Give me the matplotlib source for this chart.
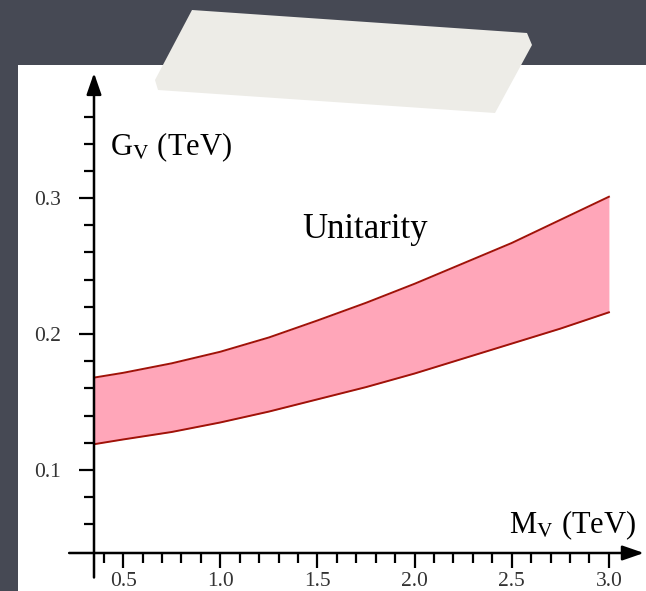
import matplotlib
matplotlib.use("Agg")
import matplotlib.pyplot as plt
from matplotlib.patches import Rectangle, Polygon
from matplotlib.ticker import FixedLocator

plt.rcParams['font.family'] = ['Liberation Serif', 'DejaVu Serif']
plt.rcParams['mathtext.fontset'] = 'stix'

# band (M_V in TeV, G_V in TeV)
mv = [0.35, 0.5, 0.75, 1.0, 1.25, 1.5, 1.75, 2.0, 2.25, 2.5, 2.75, 3.0]
gv_upper = [0.168, 0.1715, 0.1785, 0.187, 0.1975, 0.210, 0.223, 0.237, 0.252, 0.267, 0.284, 0.301]
gv_lower = [0.119, 0.1225, 0.128, 0.135, 0.143, 0.152, 0.161, 0.171, 0.182, 0.193, 0.204, 0.216]

x_major = [0.5, 1.0, 1.5, 2.0, 2.5, 3.0]
x_labels = ['0.5', '1.0', '1.5', '2.0', '2.5', '3.0']
x_minor = [0.4, 0.6, 0.7, 0.8, 0.9, 1.1, 1.2, 1.3, 1.4, 1.6, 1.7, 1.8, 1.9,
           2.1, 2.2, 2.3, 2.4, 2.6, 2.7, 2.8, 2.9]
y_major = [0.1, 0.2, 0.3]
y_labels = ['0.1', '0.2', '0.3']
y_minor = [0.06, 0.08, 0.12, 0.14, 0.16, 0.18, 0.22, 0.24, 0.26, 0.28,
           0.32, 0.34, 0.36]

W, H = 646, 591
fig = plt.figure(figsize=(W / 100, H / 100), dpi=100)
fig.patch.set_facecolor('#464954')

# white slide panel and the strip of tape
fig.patches.append(Rectangle((18 / W, 0), 1 - 18 / W, (H - 65) / H,
                             transform=fig.transFigure, facecolor='white',
                             edgecolor='none', zorder=-1))
tape = [(192, 10), (527, 33), (532, 45), (495, 113), (158, 90), (155, 80)]
fig.patches.append(Polygon([(x / W, 1 - y / H) for x, y in tape], closed=True,
                           transform=fig.transFigure, facecolor='#edece7',
                           edgecolor='none', zorder=5))

xmin, xmax = 0.35, 3.16
ymin, ymax = 0.039, 0.392
ax = fig.add_axes([94 / W, (H - 553) / H, 546 / W, 480 / H])
ax.set_zorder(1)
ax.set_xlim(xmin, xmax)
ax.set_ylim(ymin, ymax)
ax.patch.set_alpha(0)
for s in ax.spines.values():
    s.set_visible(False)

ax.fill_between(mv, gv_lower, gv_upper, color='#ffa6b9', lw=0)
ax.plot(mv, gv_upper, color='#a01208', lw=1.4)
ax.plot(mv, gv_lower, color='#a01208', lw=1.4)

# axes with arrow heads
arrow = dict(arrowstyle='-|>,head_length=1.3,head_width=0.45',
             color='black', lw=1.8, shrinkA=0, shrinkB=0)
ax.annotate('', xy=(xmax + 0.02, ymin), xytext=(0.222, ymin), xycoords='data',
            arrowprops=arrow, annotation_clip=False)
ax.annotate('', xy=(xmin, ymax), xytext=(xmin, 0.021), xycoords='data',
            arrowprops=arrow, annotation_clip=False)

ax.xaxis.set_major_locator(FixedLocator(x_major))
ax.set_xticklabels(x_labels)
ax.xaxis.set_minor_locator(FixedLocator(x_minor))
ax.yaxis.set_major_locator(FixedLocator(y_major))
ax.set_yticklabels(y_labels)
ax.yaxis.set_minor_locator(FixedLocator(y_minor))
ax.tick_params(which='major', direction='out', length=11, width=1.6,
               labelsize=15.5, labelcolor='#333333')
ax.tick_params(which='minor', direction='out', length=7, width=1.6)
ax.tick_params(axis='y', which='major', pad=13)
ax.tick_params(axis='x', which='major', pad=3)

fig.text(110 / W, 1 - 155 / H, r'G$_{\rm V}$ (TeV)', fontsize=22, va='baseline')
fig.text(365 / W, 1 - 238 / H, 'Unitarity', fontsize=25, va='baseline', ha='center')
fig.text(636 / W, 1 - 533 / H, r'M$_{\rm V}$ (TeV)', fontsize=22, va='baseline', ha='right')

fig.savefig('out.png', dpi=100, facecolor=fig.get_facecolor())
